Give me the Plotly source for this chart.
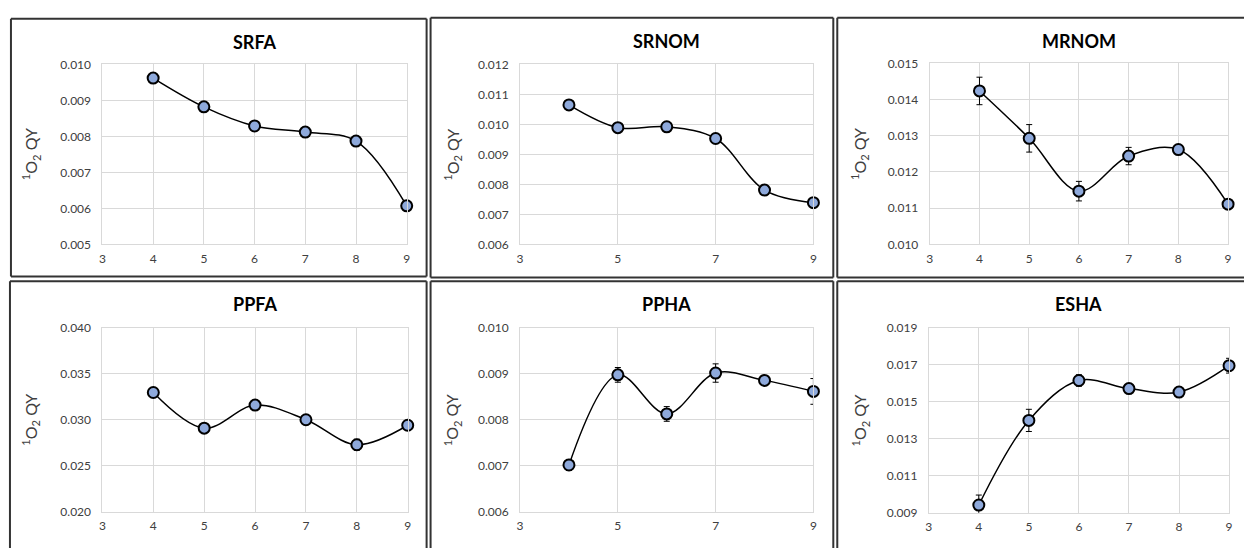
import plotly.graph_objects as go

W, H = 1244, 548

ph = [4, 5, 6, 7, 8, 9]

titles = ["SRFA", "SRNOM", "MRNOM", "PPFA", "PPHA", "ESHA"]

srfa = [0.00962, 0.00882, 0.00829, 0.00812, 0.00787, 0.00607]
srfa_err = [0.00004, 0.00004, 0.00004, 0.00004, 0.00004, 0.00004]
srnom = [0.01065, 0.00989, 0.00992, 0.00953, 0.00781, 0.00739]
srnom_err = [0.00004, 0.00004, 0.00004, 0.00004, 0.00007, 0.00012]
mrnom = [0.01424, 0.01293, 0.01147, 0.01244, 0.01262, 0.01111]
mrnom_err = [0.00038, 0.00038, 0.00027, 0.00024, 0.00005, 0.00004]
ppfa = [0.03298, 0.02910, 0.03161, 0.03002, 0.02730, 0.02942]
ppfa_err = [0.0004, 0.0002, 0.0002, 0.0003, 0.0006, 0.0002]
ppha = [0.00702, 0.00898, 0.00813, 0.00902, 0.00886, 0.00862]
ppha_err = [0.00012, 0.00016, 0.00016, 0.00020, 0.00008, 0.00028]
esha = [0.00942, 0.01400, 0.01616, 0.01572, 0.01553, 0.01696]
esha_err = [0.00054, 0.00060, 0.00031, 0.00020, 0.00025, 0.00040]

series = [srfa, srnom, mrnom, ppfa, ppha, esha]
errors = [srfa_err, srnom_err, mrnom_err, ppfa_err, ppha_err, esha_err]

y_ranges = [(0.005, 0.010), (0.006, 0.012), (0.010, 0.015),
            (0.020, 0.040), (0.006, 0.010), (0.009, 0.019)]
y_dticks = [0.001, 0.001, 0.001, 0.005, 0.001, 0.002]
x_dticks = [1, 2, 1, 1, 2, 1]

# plot areas in pixels (left, right, top, bottom)
plot_px = [(100, 406, 58, 243), (520, 815, 58, 243), (932, 1232, 57, 243),
           (100, 407, 329, 518), (520, 815, 329, 518), (931, 1233, 329, 519)]
# panel boxes in pixels (None = edge runs off the picture)
panel_px = [(8, 426, 11, 276), (430, 835, 10, 277), (839, None, 10, 277),
            (7, 426, 281, None), (430, 835, 281, None), (839, None, 281, None)]
ylabel_x = [28, 452, 862, 28, 452, 862]
title_y = [35, 34, 34, 304, 304, 304]

FONT = "Lato, 'Open Sans', sans-serif"

fig = go.Figure()
layout = dict(width=W, height=H, margin=dict(l=0, r=0, t=0, b=0),
              autosize=False,
              paper_bgcolor="white", plot_bgcolor="white", showlegend=False,
              font=dict(family=FONT, color="#404040"))
shapes = []
annotations = []


def seg(x0, y0, x1, y1):
    return dict(type="line", xref="paper", yref="paper",
                x0=x0 / W, x1=x1 / W, y0=1 - y0 / H, y1=1 - y1 / H,
                line=dict(color="#333333", width=2), layer="above")


for i in range(6):
    n = "" if i == 0 else str(i + 1)
    xa, ya = "x" + n, "y" + n
    l, r, t, b = plot_px[i]
    fig.add_trace(go.Scatter(
        x=ph, y=series[i], xaxis=xa, yaxis=ya, mode="lines+markers",
        line=dict(color="black", width=1.5, shape="spline", smoothing=1.0),
        marker=dict(size=11, color="#8EA9DB", line=dict(color="black", width=2)),
        error_y=dict(type="data", array=errors[i], visible=True,
                     color="black", thickness=1, width=3),
        cliponaxis=False))
    layout["xaxis" + n] = dict(
        domain=[l / W, r / W], anchor=ya, range=[3, 9], dtick=x_dticks[i],
        tick0=3, showgrid=True, gridcolor="#D9D9D9", gridwidth=1,
        showline=True, linecolor="#D9D9D9", linewidth=1, mirror=True,
        zeroline=False, ticks="", ticklabelstandoff=3,
        tickfont=dict(size=12, color="#404040"), fixedrange=True)
    layout["yaxis" + n] = dict(
        domain=[1 - b / H, 1 - t / H], anchor=xa, range=list(y_ranges[i]),
        dtick=y_dticks[i], tick0=y_ranges[i][0], tickformat=".3f",
        showgrid=True, gridcolor="#D9D9D9", gridwidth=1,
        showline=True, linecolor="#D9D9D9", linewidth=1, mirror=True,
        zeroline=False, ticks="", ticklabelstandoff=8,
        tickfont=dict(size=12, color="#404040"), fixedrange=True)
    pl, pr, pt, pb = panel_px[i]
    right = pr if pr is not None else W + 10
    bottom = pb if pb is not None else H + 10
    shapes.append(seg(pl, pt, right, pt))       # top
    shapes.append(seg(pl, pt, pl, bottom))      # left
    if pr is not None:
        shapes.append(seg(pr, pt, pr, bottom))  # right
    if pb is not None:
        shapes.append(seg(pl, pb, right, pb))   # bottom
    annotations.append(dict(
        text="<b>" + titles[i] + "</b>", xref="paper", yref="paper",
        x=((l + r) / 2) / W, y=1 - title_y[i] / H, showarrow=False,
        xanchor="center", yanchor="middle",
        font=dict(size=18, color="black", family=FONT)))
    annotations.append(dict(
        text="<sup>1</sup>O<sub>2</sub> QY", xref="paper", yref="paper",
        x=ylabel_x[i] / W, y=1 - ((t + b) / 2) / H, showarrow=False,
        textangle=-90, xanchor="center", yanchor="middle",
        font=dict(size=16, color="#404040", family=FONT)))

layout["shapes"] = shapes
layout["annotations"] = annotations
fig.update_layout(**layout)
fig.write_html("out.html", config={"displayModeBar": False},
               post_script="document.body.style.margin='0';"
                           "document.body.style.overflow='hidden';")
